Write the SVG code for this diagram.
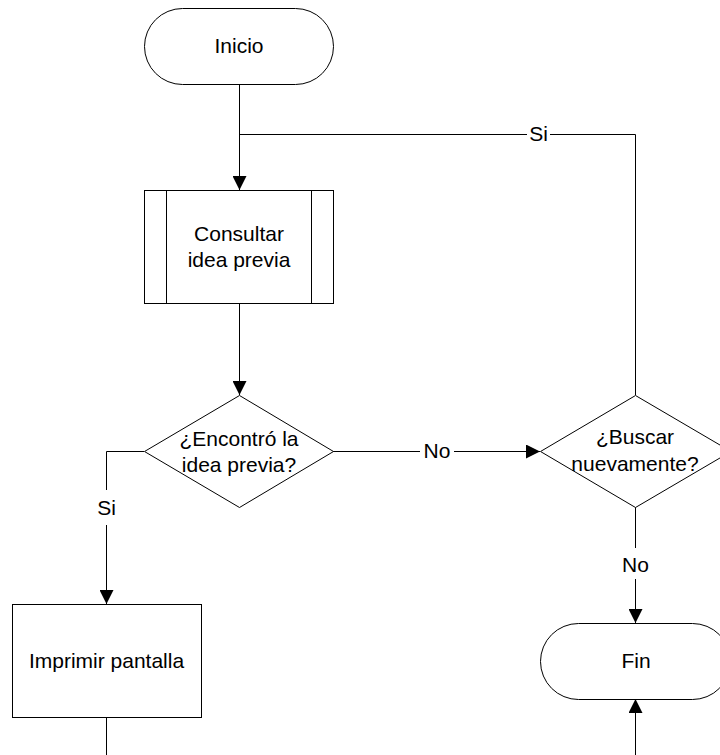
<svg xmlns="http://www.w3.org/2000/svg" width="720" height="755" viewBox="0 0 720 755">
  <style>
    .shape { fill: #ffffff; stroke: #000000; stroke-width: 1; }
    .line { fill: none; stroke: #000000; stroke-width: 1; }
    .txt { font-family: "Liberation Sans", Arial, sans-serif; font-size: 21px; fill: #000000; text-anchor: middle; }
    .lbl-bg { fill: #ffffff; stroke: none; }
  </style>
  <defs>
    <marker id="arrow" viewBox="0 0 14 14" refX="14" refY="7" markerWidth="14" markerHeight="14" markerUnits="userSpaceOnUse" orient="auto">
      <path d="M0,0 L14,7 L0,14 Z" fill="#000000"/>
    </marker>
  </defs>

  <rect width="720" height="755" fill="#ffffff"/>

  <!-- connectors -->
  <g id="connectors">
    <path class="line" d="M239.5,84 V190" marker-end="url(#arrow)"/>
    <path class="line" d="M635.5,395 V134.5 H239.5"/>
    <path class="line" d="M239.5,304 V395" marker-end="url(#arrow)"/>
    <path class="line" d="M144,451.5 H106.5 V604" marker-end="url(#arrow)"/>
    <path class="line" d="M333,451.5 H540" marker-end="url(#arrow)"/>
    <path class="line" d="M635.5,507 V623" marker-end="url(#arrow)"/>
    <path class="line" d="M106.5,718 V755"/>
    <path class="line" d="M635.5,755 V699" marker-end="url(#arrow)"/>

    <!-- connector labels -->
    <rect class="lbl-bg" x="527" y="124" width="23" height="22"/>
    <text class="txt" x="538.5" y="141">Si</text>
    <rect class="lbl-bg" x="96" y="490" width="21" height="35"/>
    <text class="txt" x="106.5" y="515">Si</text>
    <rect class="lbl-bg" x="420" y="441" width="34" height="22"/>
    <text class="txt" x="437" y="458">No</text>
    <rect class="lbl-bg" x="624" y="548" width="24" height="31"/>
    <text class="txt" x="635.5" y="572">No</text>
  </g>

  <!-- start terminal -->
  <g id="inicio">
    <rect class="shape" x="144.5" y="8.5" width="189" height="76" rx="38" ry="38"/>
    <text class="txt" x="239" y="53">Inicio</text>
  </g>

  <!-- predefined process -->
  <g id="consultar">
    <rect class="shape" x="144.5" y="190.5" width="189" height="113"/>
    <line class="line" x1="166.5" y1="190.5" x2="166.5" y2="303.5"/>
    <line class="line" x1="311.5" y1="190.5" x2="311.5" y2="303.5"/>
    <text class="txt" x="239" y="241">Consultar</text>
    <text class="txt" x="239" y="267">idea previa</text>
  </g>

  <!-- first decision -->
  <g id="encontro">
    <polygon class="shape" points="239.5,395.5 333.5,451.5 239.5,507.5 144.5,451.5"/>
    <text class="txt" x="239" y="446">¿Encontró la</text>
    <text class="txt" x="239" y="472">idea previa?</text>
  </g>

  <!-- second decision -->
  <g id="buscar">
    <polygon class="shape" points="635.5,395.5 731,451.5 635.5,507.5 540.5,451.5"/>
    <text class="txt" x="635" y="444">¿Buscar</text>
    <text class="txt" x="635" y="471">nuevamente?</text>
  </g>

  <!-- print step -->
  <g id="imprimir">
    <rect class="shape" x="12.5" y="604.5" width="189" height="113"/>
    <text class="txt" x="106.5" y="668">Imprimir pantalla</text>
  </g>

  <!-- end terminal -->
  <g id="fin">
    <rect class="shape" x="540.5" y="623.5" width="190" height="76" rx="38" ry="38"/>
    <text class="txt" x="636" y="668">Fin</text>
  </g>
</svg>
